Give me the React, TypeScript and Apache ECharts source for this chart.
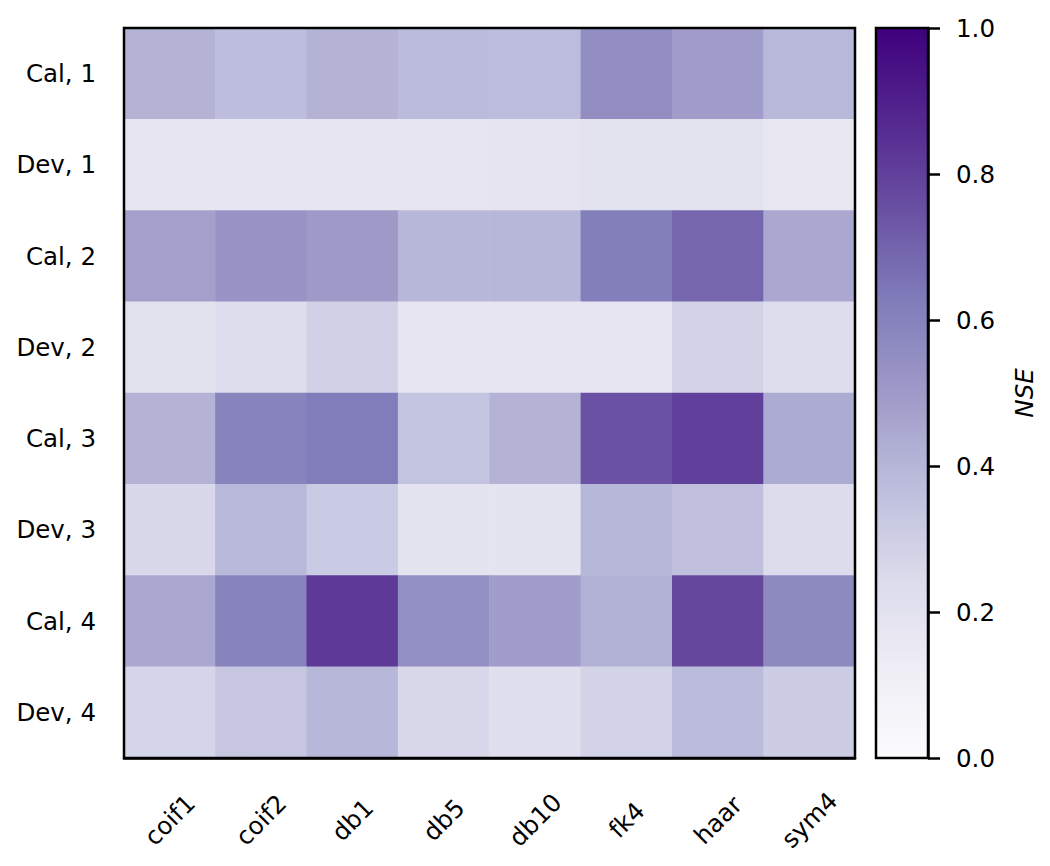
import React, { useEffect, useRef } from "react";
import * as echarts from "echarts";

const wavelets = ["coif1", "coif2", "db1", "db5", "db10", "fk4", "haar", "sym4"];
const rowLabels = ["Cal, 1", "Dev, 1", "Cal, 2", "Dev, 2", "Cal, 3", "Dev, 3", "Cal, 4", "Dev, 4"];

const cal1 = [0.41, 0.37, 0.41, 0.38, 0.375, 0.55, 0.49, 0.39];
const dev1 = [0.175, 0.18, 0.18, 0.18, 0.185, 0.195, 0.195, 0.17];
const cal2 = [0.48, 0.53, 0.5, 0.395, 0.395, 0.615, 0.69, 0.45];
const dev2 = [0.2, 0.23, 0.29, 0.18, 0.18, 0.18, 0.28, 0.23];
const cal3 = [0.41, 0.6, 0.625, 0.345, 0.41, 0.75, 0.8, 0.44];
const dev3 = [0.26, 0.39, 0.32, 0.19, 0.19, 0.395, 0.36, 0.24];
const cal4 = [0.45, 0.6, 0.82, 0.545, 0.49, 0.42, 0.78, 0.57];
const dev4 = [0.27, 0.33, 0.395, 0.26, 0.22, 0.28, 0.38, 0.31];

const rows = [cal1, dev1, cal2, dev2, cal3, dev3, cal4, dev4];

const purples = [
  "#fcfbfd", "#efedf5", "#dadaeb", "#bcbddc", "#9e9ac8",
  "#807dba", "#6a51a3", "#54278f", "#3f007d",
];

const colorbarTicks = [0, 0.2, 0.4, 0.6, 0.8, 1.0];

export default function App() {
  const ref = useRef<HTMLDivElement>(null);
  useEffect(() => {
    document.body.style.margin = "0";
    const chart = echarts.init(ref.current!, null, { renderer: "svg" });
    const data: [number, number, number][] = [];
    rows.forEach((r, ri) => r.forEach((v, ci) => data.push([ci, ri, v])));
    const font = "DejaVu Sans";
    const fs = 24.5;
    const gradient = new echarts.graphic.LinearGradient(
      0, 1, 0, 0,
      purples.map((c, i) => ({ offset: i / (purples.length - 1), color: c }))
    );
    const tick = { length: 12, lineStyle: { width: 2.5, color: "#000" } };
    chart.setOption({
      animation: false,
      backgroundColor: "#fff",
      textStyle: { fontFamily: font },
      grid: [
        { left: 124, top: 28, width: 731, height: 730, show: true, borderColor: "#000", borderWidth: 2.5, backgroundColor: "transparent", z: 3 },
        { left: 876, top: 28, width: 52, height: 730, show: true, borderColor: "#000", borderWidth: 2.5, backgroundColor: gradient },
      ],
      xAxis: [
        {
          type: "category", data: wavelets, gridIndex: 0,
          axisLine: { lineStyle: { color: "#000", width: 2.5 } },
          axisTick: { alignWithLabel: true, ...tick },
          axisLabel: {
            rotate: 45, align: "center", verticalAlign: "middle", margin: 62,
            fontSize: fs, color: "#000", fontFamily: font, interval: 0,
          },
          splitLine: { show: false },
        },
        {
          type: "value", gridIndex: 1, show: false, min: 0, max: 1,
        },
      ],
      yAxis: [
        {
          type: "category", data: rowLabels, inverse: true, gridIndex: 0,
          axisLine: { lineStyle: { color: "#000", width: 2.5 } },
          axisTick: { alignWithLabel: true, ...tick },
          axisLabel: { fontSize: fs, color: "#000", margin: 28, fontFamily: font, interval: 0 },
          splitLine: { show: false },
        },
        {
          type: "value", gridIndex: 1, position: "right", min: 0, max: 1, interval: 0.2,
          axisLine: { show: true, onZero: false, lineStyle: { color: "#000", width: 2.5 } },
          axisTick: { show: true, inside: false, ...tick },
          axisLabel: {
            fontSize: fs, color: "#000", margin: 28, fontFamily: font,
            formatter: (v: number) => v.toFixed(1),
          },
          splitLine: { show: false },
          name: "NSE", nameLocation: "middle", nameRotate: 90, nameGap: 84,
          nameTextStyle: { fontSize: fs, fontStyle: "italic", color: "#000", fontFamily: font },
        },
      ],
      visualMap: {
        show: false, min: 0, max: 1, seriesIndex: 0, dimension: 2,
        inRange: { color: purples },
      },
      series: [
        {
          type: "heatmap", xAxisIndex: 0, yAxisIndex: 0, data,
          itemStyle: { borderWidth: 0 },
          emphasis: { disabled: true },
        },
        {
          type: "scatter", xAxisIndex: 1, yAxisIndex: 1,
          data: colorbarTicks.map((t) => [0.5, t]), symbolSize: 0, silent: true,
        },
      ],
    });
    return () => chart.dispose();
  }, []);
  return <div ref={ref} style={{ width: 1050, height: 866 }} />;
}
